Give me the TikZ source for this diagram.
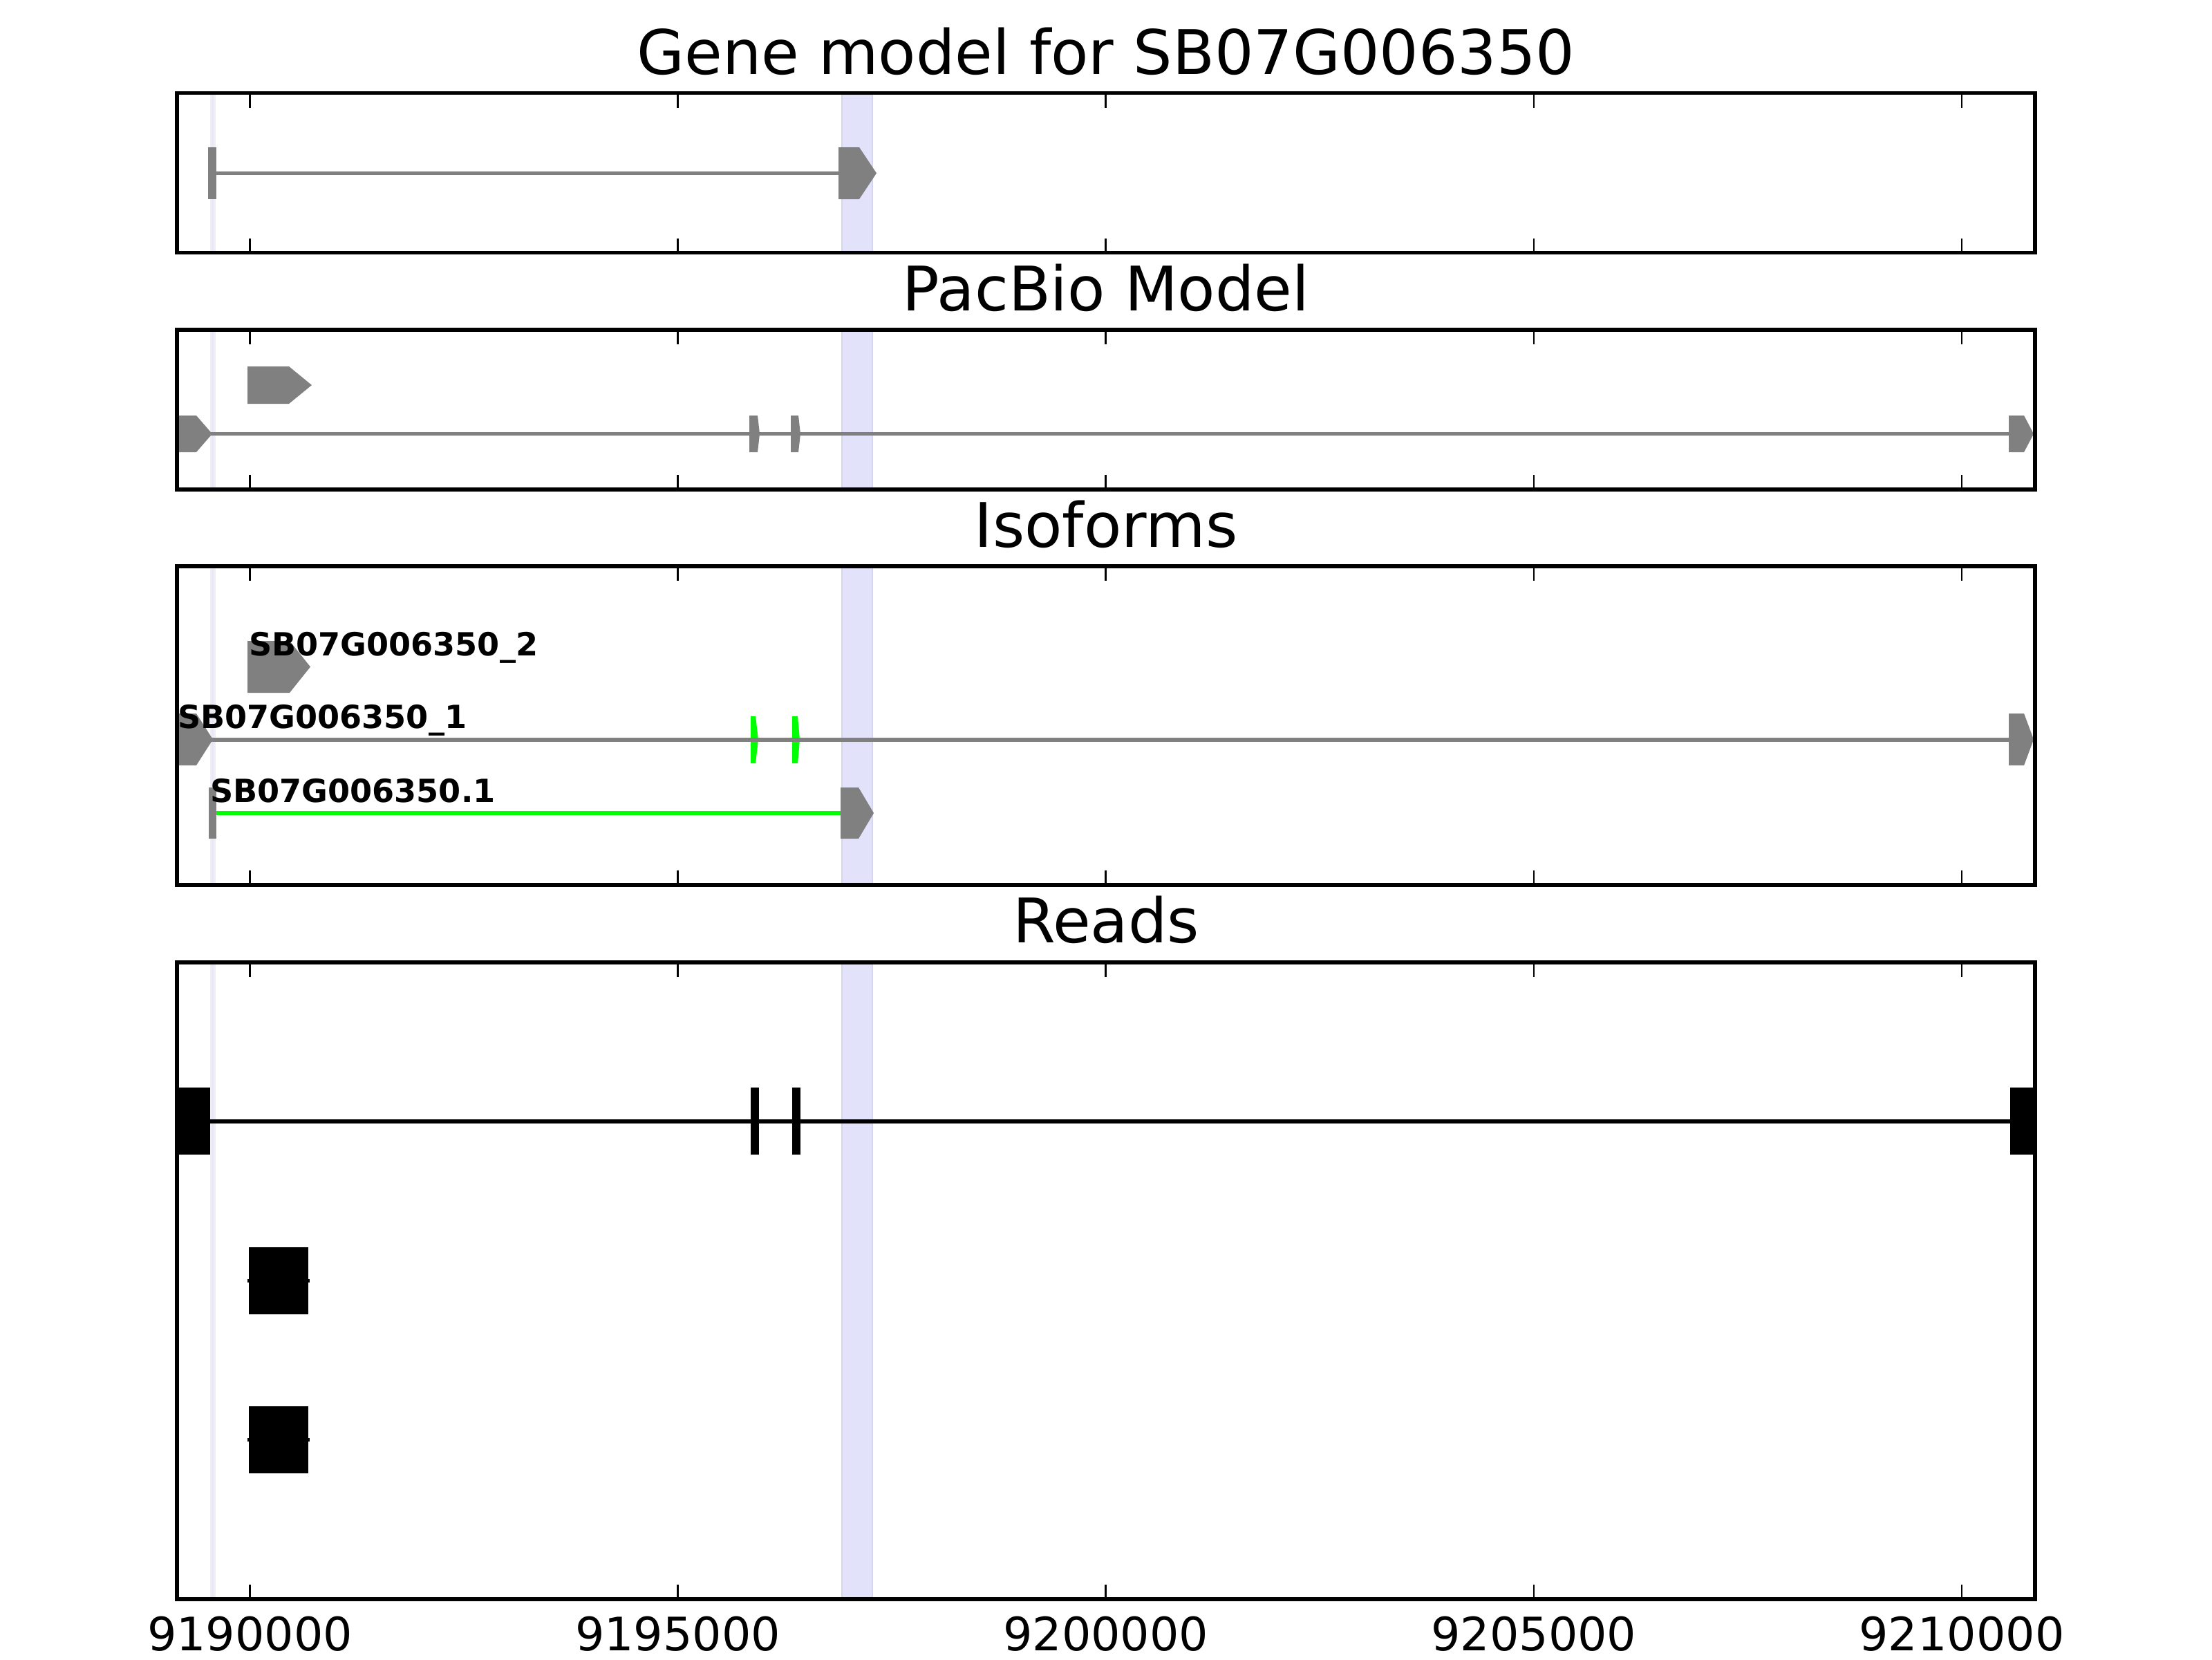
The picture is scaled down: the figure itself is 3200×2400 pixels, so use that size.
\documentclass[tikz,border=0pt]{standalone}
\usepackage{fontspec}
\setmainfont{DejaVu Sans}
\definecolor{exongray}{RGB}{128,128,128}
\definecolor{limegreen}{RGB}{0,255,0}
\definecolor{bandfill}{RGB}{226,226,250}
\definecolor{bandedge}{RGB}{214,214,234}
\definecolor{faintfill}{RGB}{232,232,247}
\definecolor{faintedge}{RGB}{239,239,243}
\newcommand{\exarrow}[6][exongray]{\fill[#1] (#2,#5) -- (#3,#5) -- (#4,{(#5+#6)/2}) -- (#3,#6) -- (#2,#6) -- cycle;}
\begin{document}
\begin{tikzpicture}[x=0.18pt,y=-0.18pt,
  frame/.style={line width=1pt, draw=black},
  tickmark/.style={line width=0.5pt, draw=black},
  band/.style={fill=bandfill, draw=bandedge, line width=0.4pt},
  faintband/.style={fill=faintfill, draw=faintedge, line width=0.4pt},
  intron/.style={draw=exongray, line width=1pt},
  readline/.style={draw=black, line width=1pt},
  ptitle/.style={anchor=base, inner sep=0pt, font=\fontsize{16}{19}\selectfont},
  ticklabel/.style={anchor=base, inner sep=0pt, font=\fontsize{12}{14}\selectfont},
  isolabel/.style={anchor=base west, inner sep=0pt, font=\fontsize{8.3}{10}\selectfont\bfseries}]
\useasboundingbox[fill=white] (0,0) rectangle (3200,2400);

% highlight bands in every panel
\foreach \t/\b in {134.7/365.5, 477/707.8, 819/1280, 1392/2313}{
  \path[band] (1218,\t) rectangle (1262,\b);
  \path[faintband] (305,\t) rectangle (310.5,\b);
}

% ---------- Panel 1: gene model ----------
\fill[exongray] (301,213) rectangle (313,288);
\draw[intron] (313,250.5) -- (1213,250.5);
\exarrow{1213}{1243}{1268}{213}{288}

% ---------- Panel 2: PacBio model ----------
\exarrow{358}{418}{451}{530}{584}
\exarrow{253}{284}{307}{601}{654}
\exarrow{1084}{1096}{1099}{601}{654}
\exarrow{1144}{1155}{1158}{601}{654}
\exarrow{2906}{2928}{2942}{601}{654}
\draw[intron] (284,627.5) -- (2906,627.5);

% ---------- Panel 3: isoforms ----------
\exarrow{358}{419}{449}{927}{1002}
\exarrow{253}{284}{308}{1032}{1107}
\exarrow{2906}{2928}{2942}{1032}{1107}
\exarrow[limegreen]{1086}{1093}{1097}{1036}{1104}
\exarrow[limegreen]{1146}{1154}{1157}{1036}{1104}
\draw[intron] (284,1070) -- (2906,1070);
\fill[exongray] (302,1139) rectangle (313,1213);
\exarrow{1216}{1242}{1264}{1139}{1213}
\draw[draw=limegreen, line width=1pt] (313,1176) -- (1216,1176);
\node[isolabel] (lab2) at (359,948.3) {SB07G006350\_2};
\node[isolabel] (lab1) at (256,1053.3) {SB07G006350\_1};
\node[isolabel] (lab3) at (303,1160) {SB07G006350.1};

% ---------- Panel 4: reads ----------
\fill[black] (253,1573) rectangle (304,1670);
\fill[black] (1086,1573) rectangle (1098,1670);
\fill[black] (1146,1573) rectangle (1158,1670);
\fill[black] (2908,1573) rectangle (2944,1670);
\draw[readline] (304,1622) -- (2908,1622);
\fill[black] (360,1804) rectangle (446,1901);
\draw[readline] (358,1852.5) -- (448,1852.5);
\fill[black] (360,2034) rectangle (446,2131);
\draw[readline] (358,2082.5) -- (448,2082.5);

% ---------- frames and ticks ----------
\foreach \t/\b in {134.7/365.5, 477/707.8, 819/1280, 1392/2313}{
  \foreach \x in {361.5,980.6,1599.8,2218.9,2838}{
    \draw[tickmark] (\x,\t) -- ++(0,21);
    \draw[tickmark] (\x,\b) -- ++(0,-21);
  }
  \draw[frame] (255.8,\t) rectangle (2944,\b);
}

% ---------- titles ----------
\node[ptitle] (t1) at (1600,107.7) {Gene model for SB07G006350};
\node[ptitle] (t2) at (1600,449.5) {PacBio Model};
\node[ptitle] (t3) at (1600,791.5) {Isoforms};
\node[ptitle] (t4) at (1600,1363.5) {Reads};

% ---------- tick labels ----------
\node[ticklabel] (x1) at (361.5,2387) {9190000};
\node[ticklabel] (x2) at (980.6,2387) {9195000};
\node[ticklabel] (x3) at (1599.8,2387) {9200000};
\node[ticklabel] (x4) at (2218.9,2387) {9205000};
\node[ticklabel] (x5) at (2838,2387) {9210000};
\end{tikzpicture}
\end{document}
